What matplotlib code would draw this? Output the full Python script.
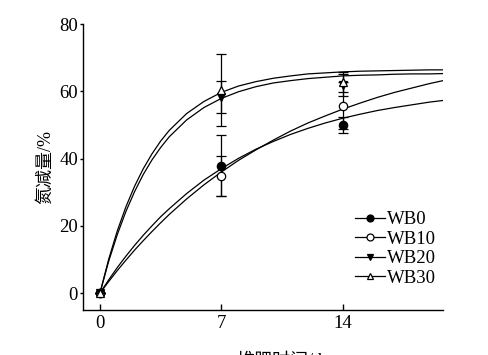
import matplotlib
matplotlib.use("Agg")
import matplotlib.pyplot as plt

plt.rcParams["font.family"] = ["Liberation Serif", "Noto Sans CJK SC"]

# measured points (days), mean and error bar half-width
days = [0, 7, 14]
wb0 = [0, 37.9, 50.0]
wb0_err = [0, 9.0, 2.5]
wb10 = [0, 34.9, 55.7]
wb10_err = [0, 5.9, 7.0]
wb20 = [0, 58.4, 61.9]
wb20_err = [0, 4.8, 3.3]
wb30 = [0, 60.4, 62.9]
wb30_err = [0, 10.7, 3.0]

# fitted curves
t_fit = [0, 0.5, 1, 1.5, 2, 2.5, 3, 3.5, 4, 5, 6, 7, 8, 9, 10, 11, 12, 13, 14,
         15, 16, 17, 18, 19, 19.8]
fit_wb0 = [0, 3.9, 7.6, 11.0, 14.2, 17.2, 20.0, 22.7, 25.1, 29.6, 33.6, 37.0,
           40.1, 42.8, 45.1, 47.2, 49.0, 50.6, 52.0, 53.2, 54.3, 55.2, 56.0,
           56.8, 57.3]
fit_wb10 = [0, 3.4, 6.7, 9.8, 12.8, 15.6, 18.3, 20.9, 23.4, 28.0, 32.2, 36.0,
            39.5, 42.6, 45.5, 48.2, 50.6, 52.7, 54.7, 56.5, 58.2, 59.7, 61.0,
            62.3, 63.2]
fit_wb20 = [0, 9.4, 17.4, 24.3, 30.2, 35.3, 39.6, 43.3, 46.5, 51.5, 55.2, 57.9,
            59.9, 61.4, 62.5, 63.2, 63.8, 64.2, 64.6, 64.8, 64.9, 65.1, 65.2,
            65.2, 65.3]
fit_wb30 = [0, 10.0, 18.5, 25.7, 31.8, 37.0, 41.4, 45.2, 48.4, 53.4, 57.0, 59.7,
            61.6, 62.9, 63.9, 64.6, 65.2, 65.5, 65.8, 66.0, 66.1, 66.2, 66.3,
            66.4, 66.4]

fig = plt.figure(figsize=(4.88, 3.55), dpi=100)
ax = fig.add_axes([0.170, 0.127, 0.738, 0.805])

for f in (fit_wb0, fit_wb10, fit_wb20, fit_wb30):
    ax.plot(t_fit, f, color="black", lw=0.9)

series = [
    ("WB0", wb0, wb0_err, "o", "black"),
    ("WB10", wb10, wb10_err, "o", "white"),
    ("WB20", wb20, wb20_err, "v", "black"),
    ("WB30", wb30, wb30_err, "^", "white"),
]
handles = []
for name, y, err, m, fc in series:
    ax.errorbar(days, y, yerr=err, fmt="none", ecolor="black", elinewidth=0.9,
                capsize=3.5, capthick=0.9)
    ax.plot(days, y, ls="none", marker=m, ms=6, mfc=fc, mec="black", mew=0.9)
    h, = ax.plot([], [], color="black", lw=0.9, marker=m, ms=5, mfc=fc,
                 mec="black", mew=0.9, label=name)
    handles.append(h)

ax.set_xlim(-0.98, 19.8)
ax.set_ylim(-5, 80)
ax.set_xticks([0, 7, 14])
ax.set_yticks([0, 20, 40, 60, 80])
ax.spines["top"].set_visible(False)
ax.spines["right"].set_visible(False)
for s in ("left", "bottom"):
    ax.spines[s].set_linewidth(1.0)
ax.tick_params(axis="x", direction="in", length=4.5, width=1.0, pad=4,
               labelsize=13.5)
ax.tick_params(axis="y", direction="out", length=2.5, width=1.0, pad=1,
               labelsize=13.5)

ax.set_ylabel("氮减量/%", fontsize=13, labelpad=4)

# x label sits mostly below the bottom edge, as in the reference
fig.text(279 / 488, 0.006, "堆肥时间/d", fontsize=13, ha="center", va="top")

fig.legend(handles=handles, loc="upper left",
           bbox_to_anchor=(355 / 488, 1 - 211 / 355), frameon=False,
           fontsize=13.5, handlelength=1.6, handletextpad=0.1,
           labelspacing=0.13, borderpad=0, borderaxespad=0)

fig.savefig("out.png", dpi=100)
